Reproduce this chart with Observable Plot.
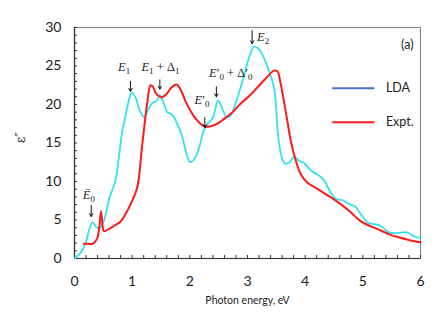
<!DOCTYPE html>
<html>
<head>
<meta charset="utf-8">
<script src="https://cdn.jsdelivr.net/npm/d3@7"></script>
<script src="https://cdn.jsdelivr.net/npm/@observablehq/plot@0.6"></script>
<style>
  body { margin: 0; background: white; }
  #chart svg { display: block; }
</style>
</head>
<body>
<div id="chart"></div>
<script>
// LDA (cyan) curve: photon energy (eV) and epsilon''
const ldaX = [0, 0.1, 0.19, 0.25, 0.31, 0.38, 0.43, 0.51, 0.57, 0.61, 0.65, 0.71, 0.77, 0.83, 0.88, 0.94, 0.99, 1.06, 1.12, 1.21, 1.27, 1.35, 1.42, 1.48, 1.54, 1.61, 1.69, 1.78, 1.87, 1.95, 2.01, 2.1, 2.18, 2.24, 2.32, 2.4, 2.49, 2.57, 2.64, 2.71, 2.8, 2.88, 2.96, 3.04, 3.11, 3.18, 3.25, 3.37, 3.46, 3.54, 3.6, 3.66, 3.73, 3.81, 3.89, 3.98, 4.09, 4.19, 4.27, 4.35, 4.44, 4.53, 4.64, 4.76, 4.87, 4.96, 5.1, 5.25, 5.34, 5.45, 5.6, 5.77, 5.86, 5.94, 6.0];
const ldaY = [0, 0.7, 1.9, 3.6, 4.7, 4.07, 3.9, 4.9, 6.7, 8.0, 8.8, 10.1, 13.2, 16.6, 18.35, 20.5, 21.5, 20.9, 19.4, 18.35, 19.2, 20.2, 20.4, 21.2, 20.3, 19.0, 18.7, 17.5, 15.75, 13.4, 12.5, 13.2, 14.9, 16.6, 17.6, 18.3, 20.5, 19.3, 18.35, 18.6, 20.3, 22.2, 24.3, 26.4, 27.5, 27.3, 26.6, 24.4, 22.2, 15.3, 13.0, 12.3, 12.5, 13.2, 12.7, 12.4, 11.5, 11.0, 10.6, 9.9, 8.6, 7.75, 7.6, 7.1, 6.75, 5.8, 4.6, 4.4, 4.07, 3.4, 3.3, 3.4, 3.0, 2.75, 2.7];

// Experimental (red) curve
const exptX = [0.16, 0.24, 0.31, 0.39, 0.43, 0.46, 0.49, 0.51, 0.6, 0.7, 0.8, 0.88, 0.97, 1.09, 1.17, 1.26, 1.32, 1.36, 1.40, 1.46, 1.52, 1.6, 1.68, 1.77, 1.85, 1.92, 2.01, 2.13, 2.22, 2.30, 2.45, 2.59, 2.74, 2.88, 3.03, 3.17, 3.32, 3.46, 3.52, 3.57, 3.63, 3.69, 3.75, 3.83, 3.92, 4.03, 4.21, 4.44, 4.61, 4.79, 4.96, 5.13, 5.31, 5.48, 5.65, 5.83, 6.0];
const exptY = [1.9, 1.9, 1.9, 2.55, 4.1, 6.15, 4.07, 3.55, 3.85, 4.3, 4.8, 5.7, 7.0, 9.3, 14.5, 20.1, 22.5, 22.3, 21.6, 21.1, 20.95, 21.4, 22.2, 22.6, 21.8, 20.5, 19.2, 17.9, 17.3, 17.1, 17.4, 18.1, 19.0, 20.1, 21.1, 22.2, 23.4, 24.4, 24.3, 22.9, 20.5, 17.9, 15.3, 12.9, 11.0, 9.9, 9.05, 7.96, 7.1, 6.0, 4.85, 4.2, 3.64, 3.07, 2.7, 2.35, 2.1];

// Tick values
const xMajor = [0, 1, 2, 3, 4, 5, 6];
const xMinor = d3.range(0, 30.5, 1).map(d => d / 5);
const yMajor = [0, 5, 10, 15, 20, 25, 30];
const yMinor = d3.range(0, 31, 1);

// Transition annotations ("_x" marks a subscript)
const annoLabel = ["Ē_0", "E_1", "E_1 + Δ_1", "E′_0", "E′_0 + Δ′_0", "E_2"];
const annoTextX = [0.25, 0.86, 1.49, 2.21, 2.71, 3.27];
const annoTextY = [8.3, 24.9, 24.9, 20.6, 24.1, 28.8];
const annoArrowX = [0.29, 0.97, 1.48, 2.26, 2.46, 3.08];
const annoArrowTop = [6.9, 23.0, 23.2, 18.3, 22.3, 29.6];
const annoArrowBot = [5.45, 21.7, 22.0, 17.0, 21.0, 27.9];

const legendNames = ["LDA", "Expt."];
const legendColors = ["#4472c4", "#ff1a1a"];

const lda = ldaX.map((x, i) => ({x, y: ldaY[i]}));
const expt = exptX.map((x, i) => ({x, y: exptY[i]}));
const annos = annoLabel.map((t, i) => ({t, tx: annoTextX[i], ty: annoTextY[i], ax: annoArrowX[i], a1: annoArrowTop[i], a2: annoArrowBot[i]}));
const legend = legendNames.map((n, i) => ({n, c: legendColors[i], y: [22.1, 17.7][i]}));

const W = 447, H = 321, mL = 74, mR = 27, mT = 27, mB = 63;
const fw = W - mL - mR, fh = H - mT - mB;

const chart = Plot.plot({
  width: W, height: H,
  marginLeft: mL, marginRight: mR, marginTop: mT, marginBottom: mB,
  x: {domain: [0, 6]},
  y: {domain: [0, 30]},
  style: {fontFamily: "Lato, 'Open Sans', sans-serif", background: "white"},
  marks: [
    Plot.frame({stroke: "#8a8a8a", strokeWidth: 1.2}),
    Plot.tickX(xMinor, {x: d => d, insetTop: fh - 3, stroke: "#333"}),
    Plot.tickY(yMinor, {y: d => d, insetRight: fw - 3, stroke: "#333"}),
    Plot.ruleX([0], {stroke: "#333", strokeWidth: 1.2}),
    Plot.ruleY([0], {stroke: "#333", strokeWidth: 1.2}),
    Plot.axisX({ticks: xMajor, tickSize: 0, tickPadding: 18, fontSize: 14, tickFormat: d => d, label: null, fill: "#222"}),
    Plot.axisY({ticks: yMajor, tickSize: 0, tickPadding: 13, fontSize: 14, tickFormat: d => d, label: null, fill: "#222"}),
    Plot.text(["Photon energy, eV"], {frameAnchor: "bottom", dy: 45, fontSize: 10.5, fill: "#222"}),
    Plot.text(["ε″"], {frameAnchor: "left", dx: -53, rotate: -90, fontSize: 12, fill: "#222", fontFamily: "DejaVu Serif"}),
    Plot.text(["(a)"], {frameAnchor: "top-right", dx: -7, dy: 13, fontSize: 12.5, fill: "#222"}),
    Plot.line(lda, {x: "x", y: "y", stroke: "#35e0ef", strokeWidth: 1.8, curve: "catmull-rom"}),
    Plot.line(expt, {x: "x", y: "y", stroke: "#ff1a1a", strokeWidth: 2, curve: "catmull-rom"}),
    Plot.arrow(annos, {x1: "ax", y1: "a1", x2: "ax", y2: "a2", stroke: "#111", strokeWidth: 1, headLength: 5}),
    Plot.text(annos, {x: "tx", y: "ty", text: "t", fontSize: 12.5, fontFamily: "'Liberation Serif', 'DejaVu Serif', serif", fill: "#222"}),
    Plot.link(legend, {x1: 4.47, x2: 5.2, y1: "y", y2: "y", stroke: "c", strokeWidth: 2}),
    Plot.text(legend, {x: 5.4, y: "y", text: "n", textAnchor: "start", fontSize: 12.5, fill: "#222"})
  ]
});

// Render subscripts/italic letters in annotation labels as tspans
const svgns = "http://www.w3.org/2000/svg";
chart.querySelectorAll("text").forEach(el => {
  const s = el.textContent;
  if (!annoLabel.includes(s)) return;
  el.textContent = "";
  const tokens = s.match(/_.|[EĒ]|′|[^_EĒ′]+/g);
  let lowered = false;
  for (const tok of tokens) {
    const t = document.createElementNS(svgns, "tspan");
    if (tok[0] === "_") {
      t.textContent = tok[1];
      t.setAttribute("font-size", "9");
      t.setAttribute("dy", "3");
      lowered = true;
    } else {
      t.textContent = tok;
      if (lowered) { t.setAttribute("dy", "-3"); lowered = false; }
      if (tok === "E" || tok === "Ē") t.setAttribute("font-style", "italic");
    }
    el.appendChild(t);
  }
});
document.getElementById("chart").append(chart);
</script>
</body>
</html>
